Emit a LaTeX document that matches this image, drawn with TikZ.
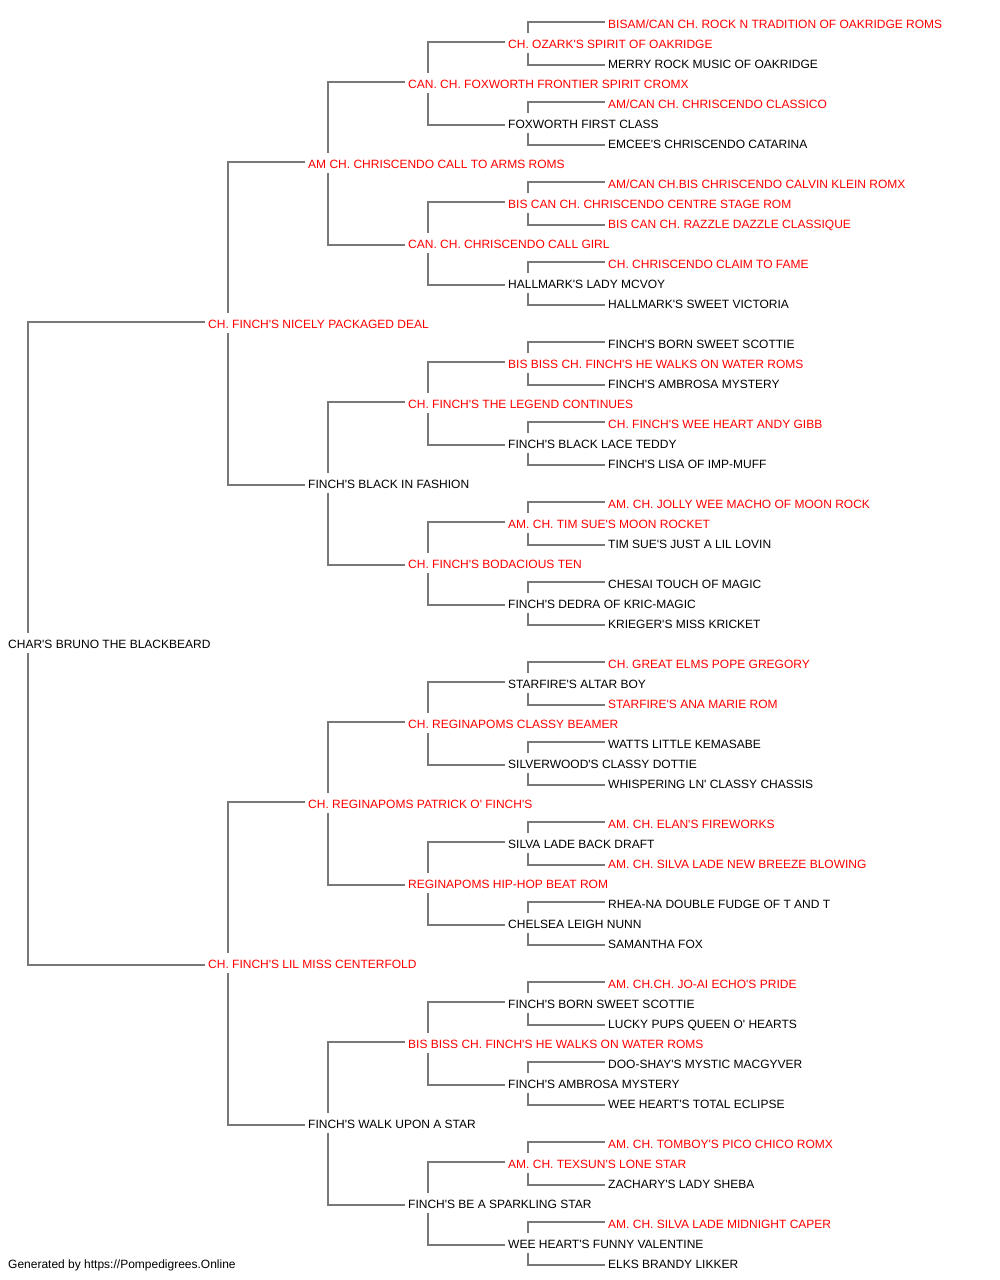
\documentclass[tikz,border=0pt]{standalone}
\usepackage{fontspec}
\setmainfont{Liberation Sans}[Ligatures=TeXOff]
\usetikzlibrary{backgrounds}
\definecolor{linkgray}{RGB}{120,120,120}
\definecolor{champred}{RGB}{255,0,0}

\begin{document}
\begin{tikzpicture}[x=1pt,y=-1pt,
        dog/.style={anchor=west,fill=white,inner xsep=0pt,inner ysep=0pt,
          minimum height=20pt,text height=11pt,text depth=0pt,
          font=\fontsize{12}{14}\selectfont,text=black},
        champ/.style={dog,text=champred},
        link/.style={draw=linkgray,line width=2pt}]
        \useasboundingbox (0,0) rectangle (1000,1280);
        % the dog itself
        \node[dog] (p) at (8,643) {CHAR'S BRUNO THE BLACKBEARD};
        % parents
        \node[champ] (ps) at (208,323) {CH. FINCH'S NICELY PACKAGED DEAL};
        \node[champ] (pd) at (208,963) {CH. FINCH'S LIL MISS CENTERFOLD};
        % grandparents
        \node[champ] (pss) at (308,163)  {AM CH. CHRISCENDO CALL TO ARMS ROMS};
        \node[dog]   (psd) at (308,483)  {FINCH'S BLACK IN FASHION};
        \node[champ] (pds) at (308,803)  {CH. REGINAPOMS PATRICK O' FINCH'S};
        \node[dog]   (pdd) at (308,1123) {FINCH'S WALK UPON A STAR};
        % great grandparents
        \node[champ] (psss) at (408,83)   {CAN. CH. FOXWORTH FRONTIER SPIRIT CROMX};
        \node[champ] (pssd) at (408,243)  {CAN. CH. CHRISCENDO CALL GIRL};
        \node[champ] (psds) at (408,403)  {CH. FINCH'S THE LEGEND CONTINUES};
        \node[champ] (psdd) at (408,563)  {CH. FINCH'S BODACIOUS TEN};
        \node[champ] (pdss) at (408,723)  {CH. REGINAPOMS CLASSY BEAMER};
        \node[champ] (pdsd) at (408,883)  {REGINAPOMS HIP-HOP BEAT ROM};
        \node[champ] (pdds) at (408,1043) {BIS BISS CH. FINCH'S HE WALKS ON WATER ROMS};
        \node[dog]   (pddd) at (408,1203) {FINCH'S BE A SPARKLING STAR};
        % generation 4
        \node[champ] (pssss) at (508,43)   {CH. OZARK'S SPIRIT OF OAKRIDGE};
        \node[dog]   (psssd) at (508,123)  {FOXWORTH FIRST CLASS};
        \node[champ] (pssds) at (508,203)  {BIS CAN CH. CHRISCENDO CENTRE STAGE ROM};
        \node[dog]   (pssdd) at (508,283)  {HALLMARK'S LADY MCVOY};
        \node[champ] (psdss) at (508,363)  {BIS BISS CH. FINCH'S HE WALKS ON WATER ROMS};
        \node[dog]   (psdsd) at (508,443)  {FINCH'S BLACK LACE TEDDY};
        \node[champ] (psdds) at (508,523)  {AM. CH. TIM SUE'S MOON ROCKET};
        \node[dog]   (psddd) at (508,603)  {FINCH'S DEDRA OF KRIC-MAGIC};
        \node[dog]   (pdsss) at (508,683)  {STARFIRE'S ALTAR BOY};
        \node[dog]   (pdssd) at (508,763)  {SILVERWOOD'S CLASSY DOTTIE};
        \node[dog]   (pdsds) at (508,843)  {SILVA LADE BACK DRAFT};
        \node[dog]   (pdsdd) at (508,923)  {CHELSEA LEIGH NUNN};
        \node[dog]   (pddss) at (508,1003) {FINCH'S BORN SWEET SCOTTIE};
        \node[dog]   (pddsd) at (508,1083) {FINCH'S AMBROSA MYSTERY};
        \node[champ] (pddds) at (508,1163) {AM. CH. TEXSUN'S LONE STAR};
        \node[dog]   (pdddd) at (508,1243) {WEE HEART'S FUNNY VALENTINE};
        % generation 5
        \node[champ] (psssss) at (608,23)   {BISAM/CAN CH. ROCK N TRADITION OF OAKRIDGE ROMS};
        \node[dog]   (pssssd) at (608,63)   {MERRY ROCK MUSIC OF OAKRIDGE};
        \node[champ] (psssds) at (608,103)  {AM/CAN CH. CHRISCENDO CLASSICO};
        \node[dog]   (psssdd) at (608,143)  {EMCEE'S CHRISCENDO CATARINA};
        \node[champ] (pssdss) at (608,183)  {AM/CAN CH.BIS CHRISCENDO CALVIN KLEIN ROMX};
        \node[champ] (pssdsd) at (608,223)  {BIS CAN CH. RAZZLE DAZZLE CLASSIQUE};
        \node[champ] (pssdds) at (608,263)  {CH. CHRISCENDO CLAIM TO FAME};
        \node[dog]   (pssddd) at (608,303)  {HALLMARK'S SWEET VICTORIA};
        \node[dog]   (psdsss) at (608,343)  {FINCH'S BORN SWEET SCOTTIE};
        \node[dog]   (psdssd) at (608,383)  {FINCH'S AMBROSA MYSTERY};
        \node[champ] (psdsds) at (608,423)  {CH. FINCH'S WEE HEART ANDY GIBB};
        \node[dog]   (psdsdd) at (608,463)  {FINCH'S LISA OF IMP-MUFF};
        \node[champ] (psddss) at (608,503)  {AM. CH. JOLLY WEE MACHO OF MOON ROCK};
        \node[dog]   (psddsd) at (608,543)  {TIM SUE'S JUST A LIL LOVIN};
        \node[dog]   (psddds) at (608,583)  {CHESAI TOUCH OF MAGIC};
        \node[dog]   (psdddd) at (608,623)  {KRIEGER'S MISS KRICKET};
        \node[champ] (pdssss) at (608,663)  {CH. GREAT ELMS POPE GREGORY};
        \node[champ] (pdsssd) at (608,703)  {STARFIRE'S ANA MARIE ROM};
        \node[dog]   (pdssds) at (608,743)  {WATTS LITTLE KEMASABE};
        \node[dog]   (pdssdd) at (608,783)  {WHISPERING LN' CLASSY CHASSIS};
        \node[champ] (pdsdss) at (608,823)  {AM. CH. ELAN'S FIREWORKS};
        \node[champ] (pdsdsd) at (608,863)  {AM. CH. SILVA LADE NEW BREEZE BLOWING};
        \node[dog]   (pdsdds) at (608,903)  {RHEA-NA DOUBLE FUDGE OF T AND T};
        \node[dog]   (pdsddd) at (608,943)  {SAMANTHA FOX};
        \node[champ] (pddsss) at (608,983)  {AM. CH.CH. JO-AI ECHO'S PRIDE};
        \node[dog]   (pddssd) at (608,1023) {LUCKY PUPS QUEEN O' HEARTS};
        \node[dog]   (pddsds) at (608,1063) {DOO-SHAY'S MYSTIC MACGYVER};
        \node[dog]   (pddsdd) at (608,1103) {WEE HEART'S TOTAL ECLIPSE};
        \node[champ] (pdddss) at (608,1143) {AM. CH. TOMBOY'S PICO CHICO ROMX};
        \node[dog]   (pdddsd) at (608,1183) {ZACHARY'S LADY SHEBA};
        \node[champ] (pdddds) at (608,1223) {AM. CH. SILVA LADE MIDNIGHT CAPER};
        \node[dog]   (pddddd) at (608,1263) {ELKS BRANDY LIKKER};
        % footer
        \node[dog] (foot) at (8,1263) {Generated by https://Pompedigrees.Online};
        % brackets from each dog to its sire and dam
        \begin{pgfonlayer}{background}
        \foreach \p in {p,ps,pd,pss,psd,pds,pdd,psss,pssd,psds,psdd,pdss,pdsd,pdds,pddd,
                pssss,psssd,pssds,pssdd,psdss,psdsd,psdds,psddd,pdsss,pdssd,pdsds,pdsdd,pddss,pddsd,pddds,pdddd}{
          \draw[link] ([xshift=20pt]\p.west) |- ([xshift=-3pt,yshift=1.5pt]\p s.west);
          \draw[link] ([xshift=20pt]\p.west) |- ([xshift=-3pt,yshift=-1.5pt]\p d.west);
        }
        \end{pgfonlayer}
      \end{tikzpicture}
\end{document}
